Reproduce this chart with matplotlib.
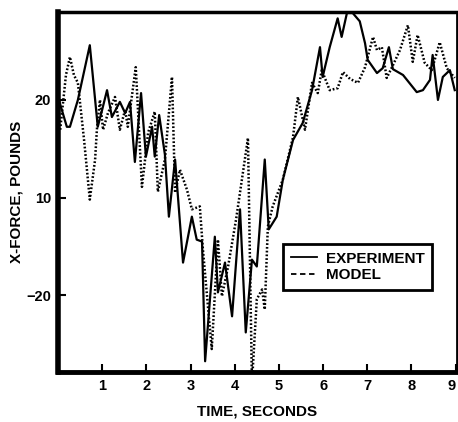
import matplotlib
matplotlib.use("Agg")
import matplotlib.pyplot as plt
from matplotlib.lines import Line2D

# Measured X-force versus simulation, pounds over time in seconds
exp_time = [0.02, 0.20, 0.27, 0.45, 0.72, 0.90, 1.00, 1.11, 1.22, 1.40, 1.52, 1.63, 1.74,
            1.88, 1.99, 2.13, 2.19, 2.29, 2.42, 2.51, 2.65, 2.83, 3.03, 3.14, 3.26,
            3.33, 3.55, 3.62, 3.78, 3.94, 4.12, 4.25, 4.39, 4.50, 4.68, 4.77, 4.95,
            5.09, 5.32, 5.54, 5.75, 5.93, 5.99, 6.15, 6.33, 6.42, 6.54, 6.67, 6.83,
            6.95, 7.01, 7.22, 7.35, 7.49, 7.58, 7.81, 8.12, 8.26, 8.42, 8.48, 8.60,
            8.71, 8.87, 8.98]
exp_force = [20.0, 14.5, 14.5, 20.0, 31.2, 14.5, 18.0, 22.0, 16.5, 19.6, 17.3, 19.6, 7.3,
             21.4, 8.4, 14.5, 8.4, 16.9, 8.8, -3.9, 7.8, -13.3, -3.9, -8.6, -9.0,
             -33.5, -8.0, -19.4, -13.3, -24.3, -2.4, -27.6, -12.7, -14.1, 7.8, -6.5, -3.9,
             3.7, 11.8, 15.3, 22.0, 30.8, 24.7, 30.8, 36.7, 32.9, 37.8, 37.8, 36.1,
             31.6, 28.2, 25.5, 26.5, 30.8, 26.3, 25.1, 21.6, 22.0, 24.1, 29.2, 20.0,
             24.7, 26.1, 22.0]

model_time = [0.05, 0.18, 0.27, 0.36, 0.45, 0.59, 0.72, 0.84, 0.88, 0.95, 1.02, 1.13,
              1.29, 1.40, 1.52, 1.58, 1.76, 1.90, 2.04, 2.19, 2.26, 2.42, 2.58, 2.65,
              2.76, 2.92, 3.03, 3.21, 3.28, 3.48, 3.62, 3.71, 3.85, 4.03, 4.30, 4.39,
              4.50, 4.62, 4.68, 4.75, 4.86, 5.09, 5.32, 5.43, 5.59, 5.75, 5.88, 5.97,
              6.15, 6.33, 6.45, 6.61, 6.79, 6.95, 7.13, 7.22, 7.33, 7.44, 7.56, 7.74,
              7.92, 8.03, 8.14, 8.30, 8.46, 8.64, 8.80, 8.98]
model_force = [13.9, 25.1, 28.8, 25.1, 23.5, 11.8, -0.4, 7.8, 13.9, 20.0, 13.9, 17.3,
               20.6, 13.9, 18.0, 14.5, 26.7, 2.2, 13.3, 17.6, 1.2, 7.8, 24.7, 1.0,
               5.7, 1.6, -2.4, -1.8, -10.6, -31.0, -8.6, -20.2, -14.1, -4.5, 12.2, -38.0,
               -20.8, -18.8, -22.9, -5.9, -1.8, 3.7, 12.4, 20.6, 13.9, 23.5, 21.4, 26.1,
               22.0, 22.4, 25.7, 24.3, 23.5, 26.7, 32.9, 30.2, 30.8, 24.5, 26.7, 30.2,
               35.3, 27.8, 33.3, 27.6, 26.1, 31.8, 26.5, 24.5]

x_ticks = [1, 2, 3, 4, 5, 6, 7, 8, 9]
y_ticks = [20, 0, -20]
y_tick_labels = ["20", "10", "\u221220"]

plt.rcParams["font.family"] = ["Liberation Sans", "DejaVu Sans"]
plt.rcParams["font.weight"] = "bold"

fig = plt.figure(figsize=(4.58, 4.22), dpi=100)
ax = fig.add_axes([58 / 458, 50 / 422, 398.5 / 458, 360 / 422])

ax.plot(exp_time, exp_force, color="black", lw=1.6, solid_joinstyle="round")
ax.plot(model_time, model_force, color="black", lw=1.8, linestyle=(0, (0.7, 0.8)))

ax.set_xlim(0, 9.02)
ax.set_ylim(-35.7, 38.0)

ax.set_xticks(x_ticks)
ax.set_xticklabels([str(t) for t in x_ticks])
ax.set_yticks(y_ticks)
ax.set_yticklabels(y_tick_labels)
ax.tick_params(direction="in", length=6, width=1.5, labelsize=10.5, pad=5)
for lab in ax.get_xticklabels() + ax.get_yticklabels():
    lab.set_fontweight("bold")
# the last time label sits against the right border
ax.get_xticklabels()[-1].set_horizontalalignment("right")

ax.spines["left"].set_linewidth(4)
ax.spines["bottom"].set_linewidth(3.5)
ax.spines["top"].set_linewidth(2.5)
ax.spines["right"].set_linewidth(2)

ax.set_xlabel("TIME, SECONDS", fontsize=11, fontweight="bold", labelpad=8)
ax.set_ylabel("X-FORCE, POUNDS", fontsize=11, fontweight="bold", labelpad=2)

handles = [Line2D([], [], color="black", lw=1.3),
           Line2D([], [], color="black", lw=1.3, linestyle=(0, (3, 2)))]
leg = ax.legend(handles, ["EXPERIMENT", "MODEL"], loc="upper left",
                bbox_to_anchor=(283 / 458, 1 - 244 / 422),
                bbox_transform=fig.transFigure, borderaxespad=0,
                fancybox=False, framealpha=1, edgecolor="black",
                prop={"size": 11, "weight": "bold"}, handlelength=1.7,
                handletextpad=0.6, labelspacing=0.15, borderpad=0.5)
leg.get_frame().set_linewidth(2)

fig.savefig("out.png", dpi=100)
